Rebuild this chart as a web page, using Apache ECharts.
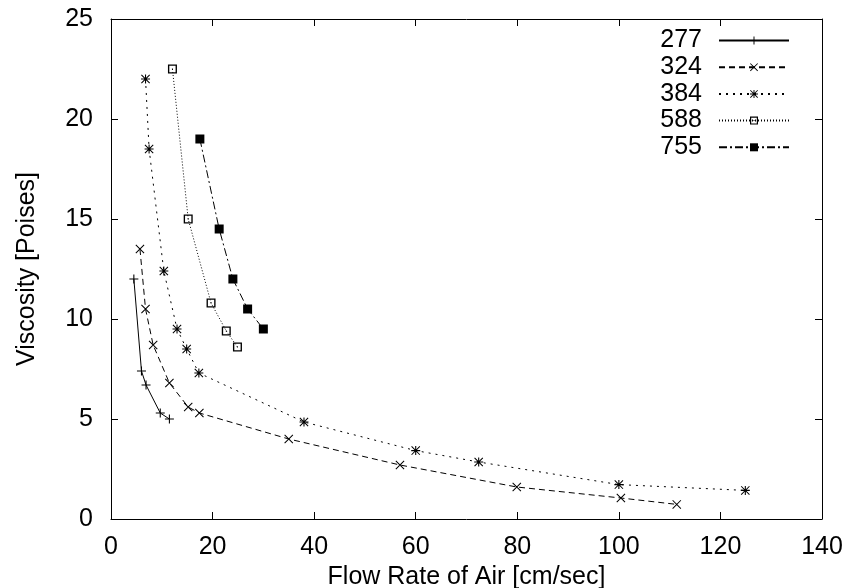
<!DOCTYPE html>
<html>
<head>
<meta charset="utf-8">
<script src="https://cdn.jsdelivr.net/npm/echarts@6/dist/echarts.min.js"></script>
<style>html,body{margin:0;padding:0;background:#fff}#c{width:848px;height:588px}</style>
</head>
<body>
<div id="c"></div>
<script>
const seriesNames = ['277', '324', '384', '588', '755'];
const x277 = [4.5, 6.0, 6.9, 9.7, 11.5];
const y277 = [12.0, 7.4, 6.7, 5.3, 5.0];
const x324 = [5.7, 6.8, 8.3, 11.5, 15.2, 17.4, 35.0, 56.9, 79.9, 100.4, 111.4];
const y324 = [13.5, 10.5, 8.7, 6.8, 5.6, 5.3, 4.0, 2.7, 1.6, 1.05, 0.73];
const x384 = [6.8, 7.5, 10.4, 13.0, 14.9, 17.3, 38.0, 60.0, 72.4, 100.0, 124.9];
const y384 = [22.0, 18.5, 12.4, 9.5, 8.5, 7.3, 4.85, 3.42, 2.85, 1.72, 1.43];
const x588 = [12.1, 15.2, 19.7, 22.7, 24.9];
const y588 = [22.5, 15.0, 10.8, 9.4, 8.6];
const x755 = [17.5, 21.3, 24.0, 26.9, 30.0];
const y755 = [19.0, 14.5, 12.0, 10.5, 9.5];
const xTitle = 'Flow Rate of Air [cm/sec]';
const yTitle = 'Viscosity [Poises]';

const FONT = 'Liberation Sans';
const pair = (xs, ys) => xs.map((x, i) => [x, ys[i]]);

const SYM_PLUS = 'path://M-0.6,-5 L0.6,-5 L0.6,5 L-0.6,5 Z M-5,-0.6 L5,-0.6 L5,0.6 L-5,0.6 Z';
const SYM_X = 'path://M-5,-4.2 L-4.2,-5 L5,4.2 L4.2,5 Z M4.2,-5 L5,-4.2 L-4.2,5 L-5,4.2 Z';
const SYM_STAR = 'path://M-5,-4.2 L-4.2,-5 L5,4.2 L4.2,5 Z M4.2,-5 L5,-4.2 L-4.2,5 L-5,4.2 Z M-0.6,-5 L0.6,-5 L0.6,5 L-0.6,5 Z M-5,-0.6 L5,-0.6 L5,0.6 L-5,0.6 Z';
const SYM_BOX = 'path://M0,0 H10 V10 H0 Z M1.5,1.5 V8.5 H8.5 V1.5 Z M4.4,4.4 H5.6 V5.6 H4.4 Z';
const SYM_FILL = 'rect';

const mk = (name, data, sym, size, dash) => ({
  name, type: 'line', data, symbol: sym, symbolSize: size,
  showAllSymbol: true, smooth: false,
  lineStyle: { color: '#000', width: 1, type: dash },
  itemStyle: { color: '#000' },
  emphasis: { disabled: true },
  animation: false
});

const chart = echarts.init(document.getElementById('c'));
const mkAxis = (extra) => Object.assign({
  type: 'value',
  axisLine: { show: true, onZero: false, lineStyle: { color: '#000', width: 1 } },
  axisTick: { show: true, inside: true, length: 7, lineStyle: { color: '#000', width: 1 } },
  splitLine: { show: false },
  axisLabel: { color: '#000', fontFamily: FONT, fontSize: 25 }
}, extra);

chart.setOption({
  animation: false,
  grid: { left: 111, right: 26, top: 19, bottom: 69, containLabel: false, outerBoundsMode: 'none' },
  xAxis: [
    mkAxis({ min: 0, max: 140, interval: 20, position: 'bottom',
      name: xTitle, nameLocation: 'middle', nameGap: 37,
      nameTextStyle: { color: '#000', fontFamily: FONT, fontSize: 25 },
      axisLabel: { color: '#000', fontFamily: FONT, fontSize: 25, margin: 16 } }),
    mkAxis({ min: 0, max: 140, interval: 20, position: 'top',
      axisLabel: { show: false } })
  ],
  yAxis: [
    mkAxis({ min: 0, max: 25, interval: 5, position: 'left',
      name: yTitle, nameLocation: 'middle', nameGap: 71, nameRotate: 90,
      nameTextStyle: { color: '#000', fontFamily: FONT, fontSize: 25 },
      axisLabel: { color: '#000', fontFamily: FONT, fontSize: 25, margin: 18 } }),
    mkAxis({ min: 0, max: 25, interval: 5, position: 'right',
      axisLabel: { show: false } })
  ],
  legend: {
    orient: 'vertical', right: 58, top: 28, padding: 0, align: 'right',
    itemWidth: 70, itemHeight: 10, itemGap: 1.7,
    textStyle: { color: '#000', fontFamily: FONT, fontSize: 25, padding: [0, 12, 0, 0] },
    data: seriesNames,
    selectedMode: false
  },
  series: [
    mk(seriesNames[0], pair(x277, y277), SYM_PLUS, 9, 'solid'),
    mk(seriesNames[1], pair(x324, y324), SYM_X, 9, [6, 4]),
    mk(seriesNames[2], pair(x384, y384), SYM_STAR, 9, [2, 5]),
    mk(seriesNames[3], pair(x588, y588), SYM_BOX, 9, [1, 2]),
    mk(seriesNames[4], pair(x755, y755), SYM_FILL, 9, [8, 3, 2, 3])
  ]
});
</script>
</body>
</html>
